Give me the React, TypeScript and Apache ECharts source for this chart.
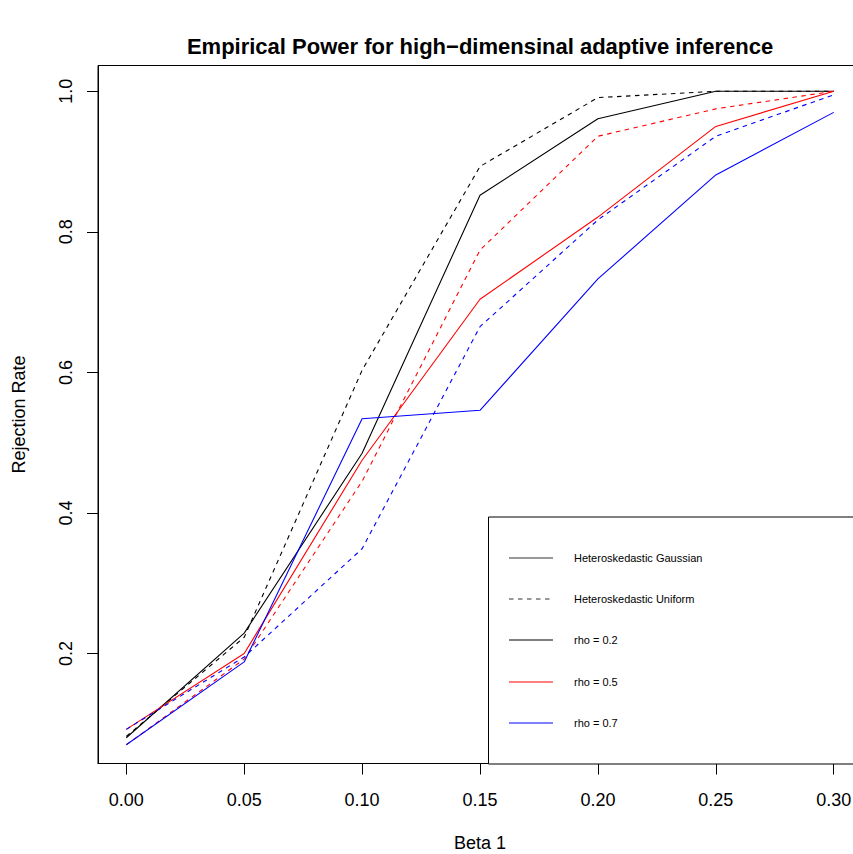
import React, { useEffect, useRef } from "react";
import * as echarts from "echarts";

const betas = [0, 0.05, 0.1, 0.15, 0.2, 0.25, 0.3];
const gaussRho02 = [0.08, 0.229, 0.485, 0.852, 0.961, 1.0, 1.0];
const unifRho02 = [0.082, 0.223, 0.603, 0.893, 0.991, 1.0, 1.0];
const gaussRho05 = [0.092, 0.2, 0.475, 0.704, 0.821, 0.95, 1.0];
const unifRho05 = [0.07, 0.192, 0.445, 0.774, 0.936, 0.975, 1.0];
const gaussRho07 = [0.07, 0.188, 0.534, 0.546, 0.733, 0.881, 0.97];
const unifRho07 = [0.092, 0.195, 0.349, 0.665, 0.817, 0.936, 0.995];

const xTicks = [0, 0.05, 0.1, 0.15, 0.2, 0.25, 0.3];
const yTicks = [0.2, 0.4, 0.6, 0.8, 1.0];

const legendLabels = [
  "Heteroskedastic Gaussian",
  "Heteroskedastic Uniform",
  "rho = 0.2",
  "rho = 0.5",
  "rho = 0.7",
];
const legendColors = ["#333333", "#333333", "#000000", "#ff0000", "#0000ff"];
const legendDashed = [false, true, false, false, false];

const FONT = "'Liberation Sans', Arial, Helvetica, sans-serif";

export default function App() {
  const ref = useRef<HTMLDivElement>(null);
  useEffect(() => {
    if (!ref.current) return;
    const chart = echarts.init(ref.current, null, { renderer: "svg" });
    const mk = (name: string, vals: number[], color: string, dashed: boolean) => ({
      name,
      type: "line",
      data: betas.map((b, i) => [b, vals[i]]),
      symbol: "none",
      lineStyle: { color, width: 1.1, type: dashed ? [4.5, 4.5] : "solid" },
      z: 3,
    });
    const series = [
      mk("Gaussian rho=0.2", gaussRho02, "#000000", false),
      mk("Uniform rho=0.2", unifRho02, "#000000", true),
      mk("Gaussian rho=0.5", gaussRho05, "#ff0000", false),
      mk("Uniform rho=0.5", unifRho05, "#ff0000", true),
      mk("Gaussian rho=0.7", gaussRho07, "#0000ff", false),
      mk("Uniform rho=0.7", unifRho07, "#0000ff", true),
    ];
    const legendRows = [558, 599, 640, 682, 723];
    const graphic: any[] = [
      {
        type: "rect",
        shape: { x: 488.5, y: 517, width: 420, height: 247 },
        style: { fill: "#ffffff", stroke: "#000000", lineWidth: 1 },
        z: 10,
      },
    ];
    legendLabels.forEach((lab, i) => {
      graphic.push({
        type: "line",
        shape: { x1: 509, y1: legendRows[i], x2: 553, y2: legendRows[i] },
        style: {
          stroke: legendColors[i],
          lineWidth: 1.1,
          lineDash: legendDashed[i] ? [4.5, 4.5] : null,
        },
        z: 11,
      });
      graphic.push({
        type: "text",
        x: 574,
        y: legendRows[i],
        style: {
          text: lab,
          fill: "#000000",
          font: `11px ${FONT}`,
          textVerticalAlign: "middle",
          verticalAlign: "middle",
        },
        z: 11,
      });
    });
    chart.setOption({
      animation: false,
      backgroundColor: "#ffffff",
      title: {
        text: "Empirical Power for high\u2212dimensinal adaptive inference",
        left: 480,
        textAlign: "center",
        top: 35,
        padding: 0,
        textStyle: { fontFamily: FONT, fontSize: 22, fontWeight: "bold", color: "#000" },
      },
      grid: {
        left: 98,
        top: 65.5,
        width: 764,
        height: 698,
        show: true,
        borderColor: "#000",
        borderWidth: 1,
        backgroundColor: "transparent",
        containLabel: false,
        outerBoundsMode: "none",
      },
      xAxis: {
        type: "value",
        position: "bottom",
        min: -0.012,
        max: 0.312,
        name: "Beta 1",
        nameLocation: "middle",
        nameGap: 70,
        nameTextStyle: { fontFamily: FONT, fontSize: 18, color: "#000" },
        axisLine: { show: true, onZero: false, lineStyle: { color: "#000", width: 1 } },
        splitLine: { show: false },
        axisTick: {
          show: true,
          length: 11,
          customValues: xTicks,
          lineStyle: { color: "#000", width: 1 },
        },
        axisLabel: {
          customValues: xTicks,
          formatter: (v: number) => v.toFixed(2),
          fontFamily: FONT,
          fontSize: 18,
          color: "#000",
          margin: 27,
          hideOverlap: false,
        },
      },
      yAxis: {
        type: "value",
        position: "left",
        min: 0.0434,
        max: 1.0367,
        name: "Rejection Rate",
        nameLocation: "middle",
        nameGap: 70,
        nameTextStyle: { fontFamily: FONT, fontSize: 18, color: "#000" },
        axisLine: { show: true, onZero: false, lineStyle: { color: "#000", width: 1 } },
        splitLine: { show: false },
        axisTick: {
          show: true,
          length: 11,
          customValues: yTicks,
          lineStyle: { color: "#000", width: 1 },
        },
        axisLabel: {
          customValues: yTicks,
          formatter: (v: number) => v.toFixed(1),
          fontFamily: FONT,
          fontSize: 18,
          color: "#000",
          rotate: 90,
          margin: 23,
        },
      },
      series,
      graphic,
    });
    return () => chart.dispose();
  }, []);
  return (
    <div
      ref={ref}
      style={{ position: "fixed", left: 0, top: 0, width: 853, height: 854, background: "#fff" }}
    />
  );
}
